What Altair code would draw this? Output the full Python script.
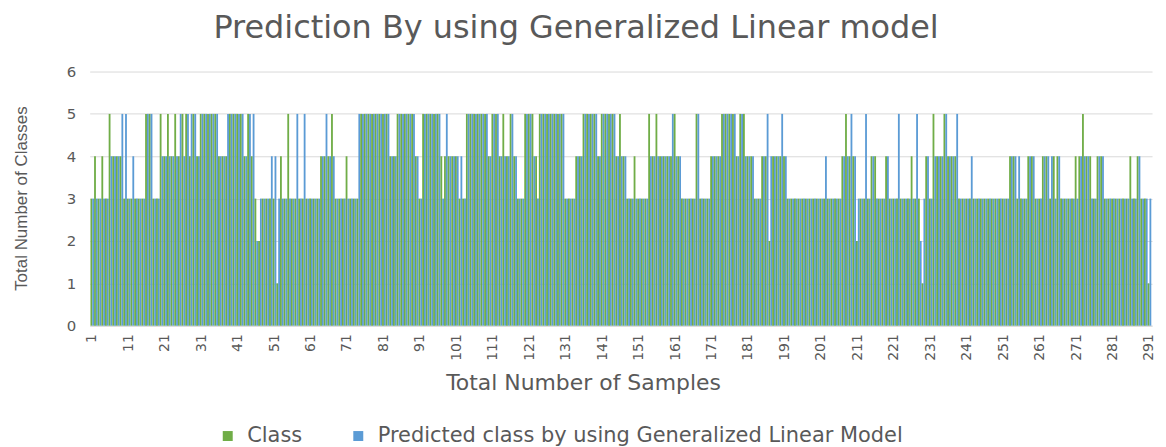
import altair as alt
import pandas as pd

# Class (actual) values per sample
class_vals = [
    3,4,3,4,3,5,4,4,4,3,
    3,3,3,3,3,5,5,3,3,5,
    4,5,4,5,4,5,5,4,5,4,
    5,5,5,5,5,4,4,4,5,5,
    5,5,4,5,4,3,2,3,3,3,
    3,1,4,3,5,3,3,3,3,3,
    3,3,3,4,4,4,5,3,3,3,
    4,3,3,3,5,5,5,5,5,5,
    5,5,4,4,5,5,5,5,5,4,
    3,5,5,5,5,5,4,4,4,4,
    4,3,3,5,5,5,5,5,5,4,
    5,5,4,5,4,5,4,3,3,5,
    5,5,4,5,5,5,5,5,5,5,
    3,3,3,4,4,5,5,5,5,4,
    5,5,5,5,4,5,4,3,3,4,
    3,3,3,5,4,5,4,4,4,4,
    5,4,3,3,3,3,5,3,3,3,
    4,4,4,5,5,5,5,4,5,5,
    4,4,3,3,4,4,2,4,4,4,
    4,3,3,3,3,3,3,3,3,3,
    3,3,3,3,3,3,4,5,4,4,
    2,3,3,3,4,4,3,3,4,3,
    3,3,3,3,3,4,3,3,1,4,
    3,5,4,4,5,4,4,4,3,3,
    3,3,3,3,3,3,3,3,3,3,
    3,3,4,4,3,3,3,4,4,3,
    3,4,4,3,4,4,3,3,3,3,
    4,4,5,4,4,3,4,4,3,3,
    3,3,3,3,3,4,3,4,3,3,1,
]

# Predicted class values per sample
pred_vals = [
    3,3,3,3,3,4,4,4,5,5,
    3,4,3,3,3,5,5,3,3,4,
    4,4,4,4,5,4,5,5,5,4,
    5,5,5,5,5,4,4,5,5,5,
    5,5,4,5,5,2,3,3,3,4,
    4,3,3,3,3,3,5,3,5,3,
    3,3,3,4,5,4,4,3,3,3,
    3,3,3,5,5,5,5,5,5,5,
    5,5,4,4,5,5,5,5,5,4,
    3,5,5,5,5,5,3,5,4,4,
    4,4,3,5,5,5,5,5,5,4,
    5,5,4,4,4,5,4,3,3,5,
    5,4,3,5,5,5,5,5,5,5,
    3,3,3,4,4,5,5,5,5,4,
    5,5,5,5,4,4,4,3,3,3,
    3,3,3,4,4,4,4,4,4,5,
    4,4,3,3,3,3,5,3,3,3,
    4,4,4,5,5,5,5,4,5,4,
    4,4,3,3,4,5,4,4,4,5,
    4,3,3,3,3,3,3,3,3,3,
    3,4,3,3,3,3,4,4,5,4,
    3,3,5,3,4,3,3,3,4,3,
    3,5,3,3,3,3,5,2,3,4,
    3,4,4,4,5,4,4,5,3,3,
    3,4,3,3,3,3,3,3,3,3,
    3,3,4,4,4,3,3,4,4,3,
    3,4,4,4,3,4,3,3,3,3,
    3,4,4,4,3,3,4,4,3,3,
    3,3,3,3,3,3,3,4,3,3,3,
]

series_names = ["Class", "Predicted class by using Generalized Linear Model"]
series_colors = ["#70AD47", "#5B9BD5"]
x_tick_labels = list(range(1, 292, 10))
y_ticks = [0, 1, 2, 3, 4, 5, 6]

n = min(len(class_vals), len(pred_vals))
rows = []
for i in range(n):
    rows.append({"sample": i + 1, "series": series_names[0], "value": class_vals[i]})
    rows.append({"sample": i + 1, "series": series_names[1], "value": pred_vals[i]})
df = pd.DataFrame(rows)

text_color = "#595959"

chart = alt.Chart(df).mark_bar().encode(
    x=alt.X(
        "sample:O",
        scale=alt.Scale(paddingInner=0, paddingOuter=0.2),
        axis=alt.Axis(
            values=x_tick_labels,
            labelAngle=270,
            labelAlign="right",
            labelBaseline="middle",
            labelFont="DejaVu Sans",
            labelFontSize=14,
            labelColor=text_color,
            labelPadding=8,
            ticks=False,
            domain=True,
            domainColor="#D9D9D9",
            grid=False,
            title="Total Number of Samples",
            titleFont="DejaVu Sans",
            titleFontSize=22,
            titleFontWeight="normal",
            titleColor=text_color,
            titleX=495,
            titleY=57,
            titleBaseline="middle",
            titleAlign="center",
        ),
    ),
    xOffset=alt.XOffset("series:N", sort=series_names),
    y=alt.Y(
        "value:Q",
        scale=alt.Scale(domain=[0, 6]),
        axis=alt.Axis(
            values=y_ticks,
            labelFont="DejaVu Sans",
            labelFontSize=15,
            labelColor=text_color,
            labelPadding=14,
            ticks=False,
            domain=False,
            grid=True,
            gridColor="#D9D9D9",
            title="Total Number of Classes",
            titleFont="Liberation Sans",
            titleFontSize=17,
            titleFontWeight="normal",
            titleColor=text_color,
            titleAngle=270,
            titleX=-68,
            titleY=127,
            titleAlign="center",
            titleBaseline="middle",
        ),
    ),
    color=alt.Color(
        "series:N",
        scale=alt.Scale(domain=series_names, range=series_colors),
        legend=alt.Legend(
            orient="none",
            legendX=128,
            legendY=355,
            direction="horizontal",
            title=None,
            symbolType="square",
            symbolSize=100,
            symbolStrokeWidth=0,
            labelFont="DejaVu Sans",
            labelFontSize=21,
            labelColor=text_color,
            labelLimit=900,
            columnPadding=45,
            labelOffset=9,
        ),
    ),
).properties(
    width=1066,
    height=255,
    autosize=alt.AutoSizeParams(type="none"),
    padding={"left": 82, "top": 63, "right": 6, "bottom": 124},
    title=alt.TitleParams(
        "Prediction By using Generalized Linear model",
        font="DejaVu Sans",
        fontSize=32,
        fontWeight="normal",
        color=text_color,
        anchor="middle",
        offset=20,
        dx=-45,
    ),
).configure_view(stroke="transparent")

chart.save("out.html", embed_options={"renderer": "svg", "actions": False})
